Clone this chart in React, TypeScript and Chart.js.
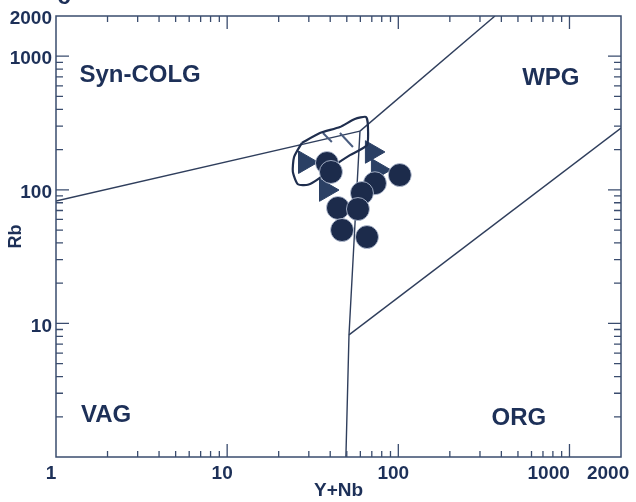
import { useEffect, useRef } from "react";
import { Chart, registerables } from "chart.js";

Chart.register(...registerables);

// ---- Data ----
// Sample points (filled circles): Y+Nb, Rb
const circleYNb = [38.3, 40.4, 102, 73, 61.3, 44.4, 58.1, 46.9, 65.6];
const circleRb = [158.7, 136, 129, 112, 94.6, 73.1, 71.8, 50, 44.3];

// Reference points (filled triangles)
const triYNb = [28.5, 37.8, 70.1, 76];
const triRb = [161, 99.6, 192, 141];

// Field outline (closed curve)
const fieldYNb = [27.3, 34.8, 45.6, 55.7, 64.7, 66.4, 65.6, 52.2, 42.6, 34.8, 29.6, 25.9, 24.2, 24.6, 27.3];
const fieldRb = [224, 266, 295, 339, 351, 305, 216, 182, 153, 123, 109, 110, 136, 176, 224];

// Hatch marks in the field
const hatch1YNb = [36.3, 40.9];
const hatch1Rb = [266, 228];
const hatch2YNb = [45.6, 54.3];
const hatch2Rb = [266, 209];

// Discrimination boundaries
const vagColgYNb = [1, 59.7];
const vagColgRb = [82.5, 275];
const wpgColgYNb = [59.7, 367];
const wpgColgRb = [275, 2000];
const verticalYNb = [49.4, 51.5, 59.7];
const verticalRb = [1, 8.2, 275];
const orgWpgYNb = [51.5, 2000];
const orgWpgRb = [8.2, 290];

// Field names (anchored in data space)
const fieldNames = ["Syn-COLG", "WPG", "VAG", "ORG"];
const fieldNameYNb = [3.1, 778, 1.96, 506];
const fieldNameRb = [723, 687, 2.06, 1.96];

// Axes ticks
const xMajorTicks = [10, 100, 1000];
const xMinorTicks = [2, 3, 4, 5, 6, 7, 8, 9, 20, 30, 40, 50, 60, 70, 80, 90, 200, 300, 400, 500, 600, 700, 800, 900];
const yMajorTicks = [10, 100, 1000];
const yMinorTicks = [2, 3, 4, 5, 6, 7, 8, 9, 20, 30, 40, 50, 60, 70, 80, 90, 200, 300, 400, 500, 600, 700, 800, 900];
const xLabelValues = [1, 10, 100, 1000, 2000];
const xLabelTexts = ["1", "10", "100", "1000      ", "2000   "];
const yLabelValues = [10, 100, 1000, 2000];
const yLabelTexts = ["10", "100", "1000", "2000"];

const ink = "#1c2b4b";
const lineInk = "#2f3e5c";
const axisInk = "#3a4c6e";
const textInk = "#1d3058";
const font = "'Liberation Sans', Arial, sans-serif";

const pts = (xs: number[], ys: number[]) => xs.map((x, i) => ({ x, y: ys[i] }));

const framePlugin = {
  id: "frameTicks",
  afterDatasetsDraw(chart: any) {
    const { ctx, chartArea: a, scales } = chart;
    const xs = scales.x;
    const ys = scales.y;
    ctx.save();
    ctx.strokeStyle = axisInk;
    ctx.lineWidth = 1.5;
    ctx.strokeRect(a.left, a.top, a.right - a.left, a.bottom - a.top);
    ctx.lineWidth = 1.3;
    const drawX = (vals: number[], len: number) =>
      vals.forEach((v) => {
        const px = xs.getPixelForValue(v);
        ctx.beginPath();
        ctx.moveTo(px, a.bottom);
        ctx.lineTo(px, a.bottom - len);
        ctx.moveTo(px, a.top);
        ctx.lineTo(px, a.top + len);
        ctx.stroke();
      });
    const drawY = (vals: number[], len: number) =>
      vals.forEach((v) => {
        const py = ys.getPixelForValue(v);
        ctx.beginPath();
        ctx.moveTo(a.left, py);
        ctx.lineTo(a.left + len, py);
        ctx.moveTo(a.right, py);
        ctx.lineTo(a.right - len, py);
        ctx.stroke();
      });
    drawX(xMinorTicks, 6);
    drawX(xMajorTicks, 13);
    drawY(yMinorTicks, 7);
    drawY(yMajorTicks, 13);

    // field names
    ctx.fillStyle = textInk;
    ctx.font = `bold 24px ${font}`;
    ctx.textAlign = "center";
    ctx.textBaseline = "middle";
    fieldNames.forEach((n, i) => {
      ctx.fillText(n, xs.getPixelForValue(fieldNameYNb[i]), ys.getPixelForValue(fieldNameRb[i]));
    });
    // cut-off panel letter
    ctx.textBaseline = "alphabetic";
    ctx.font = `bold 24px ${font}`;
    ctx.fillText("c", 64, 4);
    ctx.restore();
  },
};

export default function App() {
  const ref = useRef<HTMLCanvasElement>(null);

  useEffect(() => {
    if (!ref.current) return;
    const lineDs = (label: string, xs: number[], ys: number[], extra: any = {}) => ({
      label,
      data: pts(xs, ys),
      showLine: true,
      borderColor: lineInk,
      borderWidth: 1.4,
      pointRadius: 0,
      fill: false,
      tension: 0,
      order: 3,
      ...extra,
    });

    const chart = new Chart(ref.current, {
      type: "scatter",
      data: {
        datasets: [
          {
            label: "samples",
            data: pts(circleYNb, circleRb),
            pointStyle: "circle",
            pointRadius: 11.5,
            backgroundColor: ink,
            borderColor: "rgba(190,200,220,0.8)",
            borderWidth: 1,
            order: 0,
          } as any,
          lineDs("field", fieldYNb, fieldRb, { borderColor: "#1f2e4e", borderWidth: 2.2, tension: 0.2, order: 1 }),
          lineDs("hatch1", hatch1YNb, hatch1Rb, { borderColor: "#4a5d80", borderWidth: 2, order: 1 }),
          lineDs("hatch2", hatch2YNb, hatch2Rb, { borderColor: "#4a5d80", borderWidth: 2, order: 1 }),
          {
            label: "reference",
            data: pts(triYNb, triRb),
            pointStyle: "triangle",
            rotation: 90,
            pointRadius: 13,
            backgroundColor: "#2b4064",
            borderColor: "#2b4064",
            borderWidth: 1,
            order: 2,
          } as any,
          lineDs("VAG/syn-COLG", vagColgYNb, vagColgRb),
          lineDs("WPG/syn-COLG", wpgColgYNb, wpgColgRb),
          lineDs("VAG/WPG", verticalYNb, verticalRb),
          lineDs("ORG/WPG", orgWpgYNb, orgWpgRb),
        ],
      },
      options: {
        animation: false,
        responsive: false,
        layout: { padding: { left: 0, top: 16, right: 15, bottom: 0 } },
        plugins: { legend: { display: false }, tooltip: { enabled: false } },
        scales: {
          x: {
            type: "logarithmic",
            min: 1,
            max: 2000,
            grid: { display: false, drawTicks: false },
            border: { display: false },
            afterBuildTicks: (s: any) => {
              s.ticks = xLabelValues.map((v) => ({ value: v }));
            },
            afterFit: (s: any) => {
              s.height = 45;
              s.paddingLeft = 0;
              s.paddingRight = 0;
            },
            ticks: {
              autoSkip: false,
              maxRotation: 0,
              padding: 5,
              labelOffset: -5,
              color: textInk,
              font: { family: font, size: 19, weight: "bold" },
              callback: (v: any) => {
                const i = xLabelValues.indexOf(Number(v));
                return i >= 0 ? xLabelTexts[i] : "";
              },
            },
            title: {
              display: true,
              text: "Y+Nb",
              color: textInk,
              font: { family: font, size: 19, weight: "bold" },
              padding: { top: -1, bottom: 0 },
            },
          },
          y: {
            type: "logarithmic",
            min: 1,
            max: 2000,
            grid: { display: false, drawTicks: false },
            border: { display: false },
            afterBuildTicks: (s: any) => {
              s.ticks = yLabelValues.map((v) => ({ value: v }));
            },
            afterFit: (s: any) => {
              s.width = 56;
              s.paddingTop = 0;
              s.paddingBottom = 0;
            },
            ticks: {
              autoSkip: false,
              padding: 4,
              labelOffset: 3,
              color: textInk,
              font: { family: font, size: 19, weight: "bold" },
              callback: (v: any) => {
                const i = yLabelValues.indexOf(Number(v));
                return i >= 0 ? yLabelTexts[i] : "";
              },
            },
            title: {
              display: true,
              text: "Rb",
              color: textInk,
              font: { family: font, size: 18, weight: "bold" },
              padding: { top: 5, bottom: 0 },
            },
          },
        },
      } as any,
      plugins: [framePlugin],
    });
    return () => chart.destroy();
  }, []);

  return (
    <div style={{ position: "fixed", left: 0, top: 0, width: 636, height: 502, background: "#fff" }}>
      <canvas ref={ref} width={636} height={502} style={{ display: "block" }} />
    </div>
  );
}
